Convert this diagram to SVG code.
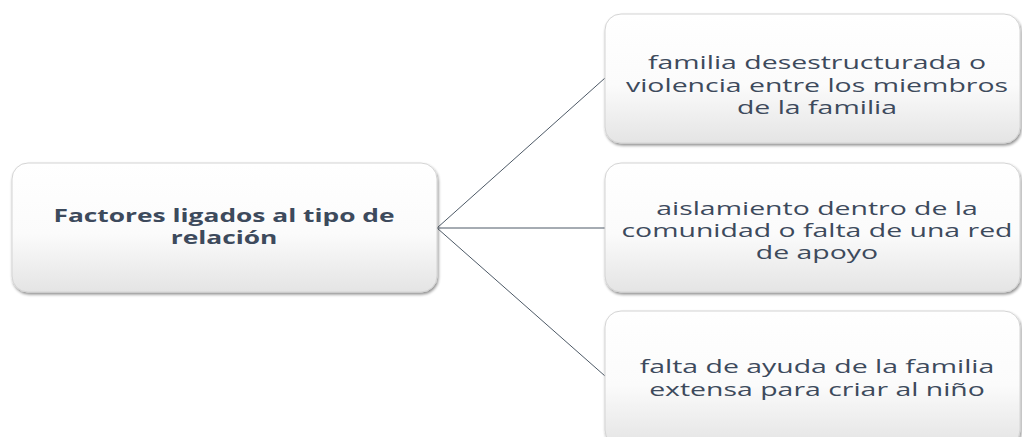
<svg xmlns="http://www.w3.org/2000/svg" width="1022" height="437" viewBox="0 0 1022 437">
<defs>
<linearGradient id="g" x1="0" y1="0" x2="0" y2="1">
<stop offset="0" stop-color="#ffffff"/>
<stop offset="0.55" stop-color="#fbfbfb"/>
<stop offset="1" stop-color="#e4e4e4"/>
</linearGradient>
<filter id="sh" x="-5%" y="-5%" width="112%" height="120%">
<feGaussianBlur in="SourceAlpha" stdDeviation="1.5"/>
<feOffset dx="1" dy="2" result="b"/>
<feComponentTransfer><feFuncA type="linear" slope="0.45"/></feComponentTransfer>
<feMerge><feMergeNode/><feMergeNode in="SourceGraphic"/></feMerge>
</filter>
</defs>
<style>
.box{fill:url(#g);stroke:#d4d4d4;stroke-width:1;filter:url(#sh)}
.t{font-family:"Open Sans","DejaVu Sans",sans-serif;fill:#3d4a5c;text-anchor:middle}
.r{font-size:18px}
.b{font-size:17px;font-weight:bold}
.c{stroke:#4d5966;stroke-width:1;fill:none}
</style>
<rect width="1022" height="437" fill="#ffffff"/>
<g id="connectors">
<line class="c" x1="437" y1="228" x2="605" y2="78"/>
<line class="c" x1="437" y1="228" x2="605" y2="228"/>
<line class="c" x1="437" y1="228" x2="605" y2="376"/>
</g>
<g id="root">
<rect class="box" x="12" y="163" width="425" height="129" rx="16"/>
<g transform="translate(224,0) scale(1.55,1)">
<text class="t b" x="0" y="222">Factores ligados al tipo de</text>
<text class="t b" x="0" y="244">relación</text>
</g>
</g>
<g id="n1">
<rect class="box" x="605" y="14" width="415" height="129" rx="16"/>
<g transform="translate(817,0) scale(1.58,1)">
<text class="t r" x="0" y="69">familia desestructurada o</text>
<text class="t r" x="0" y="92">violencia entre los miembros</text>
<text class="t r" x="0" y="114">de la familia</text>
</g>
</g>
<g id="n2">
<rect class="box" x="605" y="163" width="415" height="129" rx="16"/>
<g transform="translate(817,0) scale(1.58,1)">
<text class="t r" x="0" y="215">aislamiento dentro de la</text>
<text class="t r" x="0" y="237">comunidad o falta de una red</text>
<text class="t r" x="0" y="259">de apoyo</text>
</g>
</g>
<g id="n3">
<rect class="box" x="605" y="311" width="415" height="135" rx="16"/>
<g transform="translate(817,0) scale(1.58,1)">
<text class="t r" x="0" y="373">falta de ayuda de la familia</text>
<text class="t r" x="0" y="396">extensa para criar al niño</text>
</g>
</g>
</svg>
